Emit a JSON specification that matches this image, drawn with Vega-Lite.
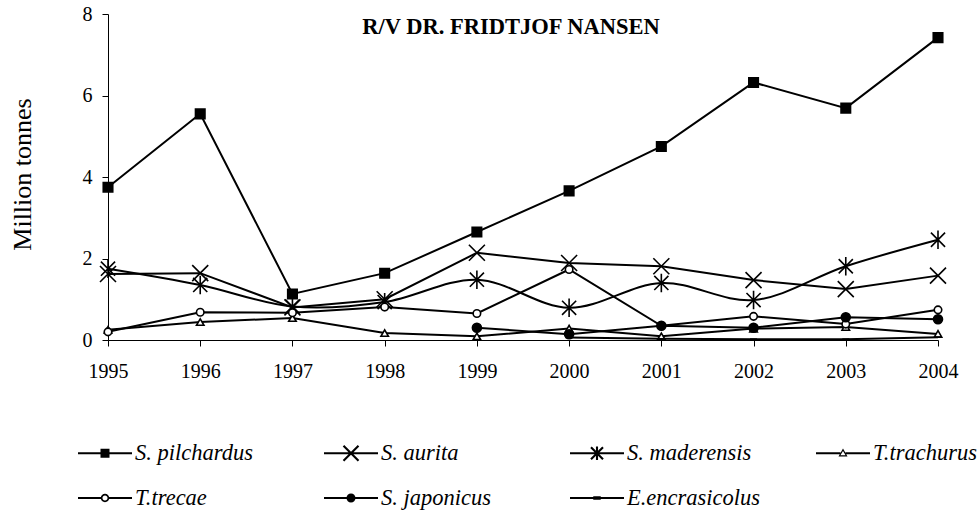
{
  "$schema": "https://vega.github.io/schema/vega-lite/v6.json",
  "width": 830,
  "height": 326,
  "autosize": {"type": "none"},
  "padding": {"left": 108, "top": 14, "right": 42, "bottom": 170},
  "background": "white",
  "config": {
    "view": {"stroke": null},
    "font": "Liberation Serif",
    "axis": {"labelFont": "Liberation Serif", "titleFont": "Liberation Serif", "labelColor": "black", "titleColor": "black", "domainColor": "black", "tickColor": "black", "grid": false}
  },
  "title": {
    "text": "R/V DR. FRIDTJOF NANSEN",
    "font": "Liberation Serif",
    "fontSize": 22.5,
    "fontWeight": "bold",
    "color": "black",
    "anchor": "middle",
    "offset": -34,
    "dx": -12
  },
  "datasets": {
    "catch": [
      {"year": 1995, "species": "S. pilchardus", "value": 3.75},
      {"year": 1996, "species": "S. pilchardus", "value": 5.55},
      {"year": 1997, "species": "S. pilchardus", "value": 1.13},
      {"year": 1998, "species": "S. pilchardus", "value": 1.64},
      {"year": 1999, "species": "S. pilchardus", "value": 2.65},
      {"year": 2000, "species": "S. pilchardus", "value": 3.66},
      {"year": 2001, "species": "S. pilchardus", "value": 4.75},
      {"year": 2002, "species": "S. pilchardus", "value": 6.32},
      {"year": 2003, "species": "S. pilchardus", "value": 5.69},
      {"year": 2004, "species": "S. pilchardus", "value": 7.42},
      {"year": 1995, "species": "S. aurita", "value": 1.62},
      {"year": 1996, "species": "S. aurita", "value": 1.64},
      {"year": 1997, "species": "S. aurita", "value": 0.8},
      {"year": 1998, "species": "S. aurita", "value": 1.0},
      {"year": 1999, "species": "S. aurita", "value": 2.14},
      {"year": 2000, "species": "S. aurita", "value": 1.89},
      {"year": 2001, "species": "S. aurita", "value": 1.81},
      {"year": 2002, "species": "S. aurita", "value": 1.47},
      {"year": 2003, "species": "S. aurita", "value": 1.25},
      {"year": 2004, "species": "S. aurita", "value": 1.58},
      {"year": 1995, "species": "S. maderensis", "value": 1.75},
      {"year": 1996, "species": "S. maderensis", "value": 1.35},
      {"year": 1997, "species": "S. maderensis", "value": 0.82},
      {"year": 1998, "species": "S. maderensis", "value": 0.93},
      {"year": 1999, "species": "S. maderensis", "value": 1.48},
      {"year": 2000, "species": "S. maderensis", "value": 0.79},
      {"year": 2001, "species": "S. maderensis", "value": 1.4},
      {"year": 2002, "species": "S. maderensis", "value": 0.98},
      {"year": 2003, "species": "S. maderensis", "value": 1.81},
      {"year": 2004, "species": "S. maderensis", "value": 2.46},
      {"year": 1995, "species": "T.trachurus", "value": 0.25},
      {"year": 1996, "species": "T.trachurus", "value": 0.44},
      {"year": 1997, "species": "T.trachurus", "value": 0.54},
      {"year": 1998, "species": "T.trachurus", "value": 0.17},
      {"year": 1999, "species": "T.trachurus", "value": 0.09},
      {"year": 2000, "species": "T.trachurus", "value": 0.28},
      {"year": 2001, "species": "T.trachurus", "value": 0.09},
      {"year": 2002, "species": "T.trachurus", "value": 0.28},
      {"year": 2003, "species": "T.trachurus", "value": 0.32},
      {"year": 2004, "species": "T.trachurus", "value": 0.15},
      {"year": 1995, "species": "T.trecae", "value": 0.2},
      {"year": 1996, "species": "T.trecae", "value": 0.68},
      {"year": 1997, "species": "T.trecae", "value": 0.67},
      {"year": 1998, "species": "T.trecae", "value": 0.81},
      {"year": 1999, "species": "T.trecae", "value": 0.65},
      {"year": 2000, "species": "T.trecae", "value": 1.73},
      {"year": 2001, "species": "T.trecae", "value": 0.35},
      {"year": 2002, "species": "T.trecae", "value": 0.58},
      {"year": 2003, "species": "T.trecae", "value": 0.39},
      {"year": 2004, "species": "T.trecae", "value": 0.74},
      {"year": 1999, "species": "S. japonicus", "value": 0.3},
      {"year": 2000, "species": "S. japonicus", "value": 0.14},
      {"year": 2001, "species": "S. japonicus", "value": 0.35},
      {"year": 2002, "species": "S. japonicus", "value": 0.3},
      {"year": 2003, "species": "S. japonicus", "value": 0.56},
      {"year": 2004, "species": "S. japonicus", "value": 0.51},
      {"year": 2000, "species": "E.encrasicolus", "value": 0.06},
      {"year": 2001, "species": "E.encrasicolus", "value": 0.03},
      {"year": 2002, "species": "E.encrasicolus", "value": 0.02},
      {"year": 2003, "species": "E.encrasicolus", "value": 0.02},
      {"year": 2004, "species": "E.encrasicolus", "value": 0.07}
    ]
  },
  "data": {"name": "catch"},
  "encoding": {
    "x": {
      "field": "year",
      "type": "quantitative",
      "scale": {"domain": [1995, 2004], "nice": false, "zero": false},
      "axis": {
        "values": [1995, 1996, 1997, 1998, 1999, 2000, 2001, 2002, 2003, 2004],
        "format": "d",
        "title": null,
        "labelFontSize": 20,
        "labelFlush": false,
        "labelOverlap": false,
        "labelPadding": 15,
        "tickSize": 6,
        "domainWidth": 1,
        "tickWidth": 1
      }
    },
    "y": {
      "field": "value",
      "type": "quantitative",
      "scale": {"domain": [0, 8], "nice": false},
      "axis": {
        "values": [0, 2, 4, 6, 8],
        "title": "Million tonnes",
        "titleFontSize": 26,
        "titleFontWeight": "normal",
        "titleAngle": -90,
        "titleX": -86,
        "titleY": 160,
        "titleAlign": "center",
        "titleBaseline": "middle",
        "labelFontSize": 20,
        "labelPadding": 10,
        "tickSize": 6,
        "domainWidth": 1,
        "tickWidth": 1
      }
    }
  },
  "layer": [
    {
      "transform": [{"filter": "datum.species !== 'S. maderensis'"}],
      "mark": {"type": "line", "color": "black", "strokeWidth": 2},
      "encoding": {"detail": {"field": "species", "type": "nominal"}}
    },
    {
      "transform": [{"filter": "datum.species === 'S. maderensis'"}],
      "mark": {"type": "line", "color": "black", "strokeWidth": 2, "interpolate": "catmull-rom"},
      "encoding": {"detail": {"field": "species", "type": "nominal"}}
    },
    {
      "mark": {"type": "point", "filled": true, "stroke": "black", "strokeWidth": 1.6, "opacity": 1},
      "encoding": {
        "shape": {
          "field": "species",
          "type": "nominal",
          "scale": {
            "domain": ["S. pilchardus", "S. aurita", "S. maderensis", "T.trachurus", "T.trecae", "S. japonicus", "E.encrasicolus"],
            "range": ["square", "M-1,-1L1,1M-1,1L1,-1", "M-1,-1L1,1M-1,1L1,-1M0,-1.3V1.3", "triangle-up", "circle", "circle", "M-1,0H1"]
          },
          "legend": null
        },
        "fill": {
          "field": "species",
          "type": "nominal",
          "scale": {
            "domain": ["S. pilchardus", "S. aurita", "S. maderensis", "T.trachurus", "T.trecae", "S. japonicus", "E.encrasicolus"],
            "range": ["black", "black", "black", "white", "white", "black", "black"]
          },
          "legend": null
        },
        "size": {
          "field": "species",
          "type": "nominal",
          "scale": {
            "type": "ordinal",
            "domain": ["S. pilchardus", "S. aurita", "S. maderensis", "T.trachurus", "T.trecae", "S. japonicus", "E.encrasicolus"],
            "range": [90, 256, 200, 56, 56, 81, 49]
          },
          "legend": null
        }
      }
    },
    {
      "transform": [{"filter": "false"}],
      "mark": {"type": "point", "filled": true, "color": "black", "strokeWidth": 0, "opacity": 1},
      "encoding": {
        "shape": {
          "field": "species",
          "type": "nominal",
          "scale": {
            "domain": ["S. pilchardus", "S. aurita", "S. maderensis", "T.trachurus", "T.trecae", "S. japonicus", "E.encrasicolus"],
            "range": [
              "M-1.8,-0.07H1.8V0.07H-1.8Z M-0.3,-0.3H0.3V0.3H-0.3Z",
              "M-1.8,-0.07H1.8V0.07H-1.8Z M-0.45,-0.55L0.55,0.45L0.45,0.55L-0.55,-0.45Z M0.45,-0.55L0.55,-0.45L-0.45,0.55L-0.55,0.45Z",
              "M-1.8,-0.07H1.8V0.07H-1.8Z M-0.35,-0.45L0.45,0.35L0.35,0.45L-0.45,-0.35Z M0.35,-0.45L0.45,-0.35L-0.35,0.45L-0.45,0.35Z M-0.07,-0.45H0.07V0.45H-0.07Z",
              "M-1.8,-0.07H-0.17V0.07H-1.8Z M0.17,-0.07H1.8V0.07H0.17Z M0,-0.32L0.3,0.22H-0.3Z M0,-0.15L-0.17,0.13H0.17Z",
              "M-1.8,-0.07H-0.25V0.07H-1.8Z M0.25,-0.07H1.8V0.07H0.25Z M-0.28,0A0.28,0.28 0 1,1 0.28,0A0.28,0.28 0 1,1 -0.28,0Z M-0.17,0A0.17,0.17 0 1,0 0.17,0A0.17,0.17 0 1,0 -0.17,0Z",
              "M-1.8,-0.07H1.8V0.07H-1.8Z M-0.3,0A0.3,0.3 0 1,1 0.3,0A0.3,0.3 0 1,1 -0.3,0Z",
              "M-1.8,-0.07H1.8V0.07H-1.8Z M-0.25,-0.12H0.25V0.12H-0.25Z"
            ]
          },
          "legend": {
            "title": null,
            "orient": "none",
            "direction": "horizontal",
            "legendX": -18,
            "legendY": 424,
            "columns": 4,
            "gridAlign": "all",
            "columnPadding": 55,
            "rowPadding": 18,
            "padding": 0,
            "symbolSize": 900,
            "symbolStrokeWidth": 0,
            "symbolFillColor": "black",
            "symbolOpacity": 1,
            "labelFont": "Liberation Serif",
            "labelFontStyle": "italic",
            "labelFontSize": 22.5,
            "labelColor": "black",
            "labelOffset": 15,
            "labelLimit": 400,
            "labelBaseline": "middle"
          }
        }
      }
    }
  ],
  "resolve": {"scale": {"shape": "independent"}, "legend": {"shape": "independent"}}
}
